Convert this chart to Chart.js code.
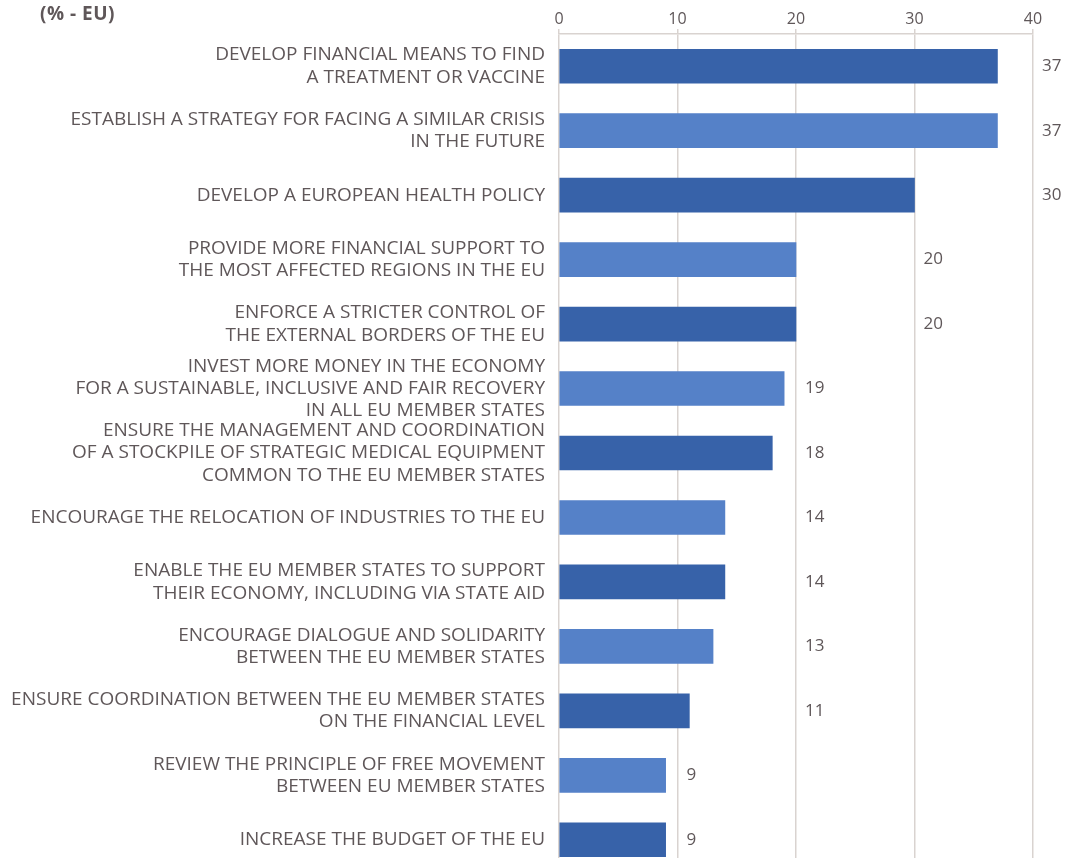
<!DOCTYPE html>
<html>
<head>
<meta charset="utf-8">
<script src="https://cdn.jsdelivr.net/npm/chart.js@4"></script>
<style>
  html, body { margin: 0; padding: 0; overflow: hidden; background: #fff; }
  #wrap { position: relative; width: 1072px; height: 872px; }
  #unit { position: absolute; left: 40px; top: 0px; font: bold 19px "Open Sans", sans-serif; color: #5f5759; letter-spacing: 0.5px; }
</style>
</head>
<body>
<div id="wrap">
  <canvas id="pollChart" width="1072" height="872"></canvas>
  <div id="unit">(% - EU)</div>
</div>
<script>
const categories = [
    ['DEVELOP FINANCIAL MEANS TO FIND', 'A TREATMENT OR VACCINE'],
    ['ESTABLISH A STRATEGY FOR FACING A SIMILAR CRISIS', 'IN THE FUTURE'],
    ['DEVELOP A EUROPEAN HEALTH POLICY'],
    ['PROVIDE MORE FINANCIAL SUPPORT TO', 'THE MOST AFFECTED REGIONS IN THE EU'],
    ['ENFORCE A STRICTER CONTROL OF', 'THE EXTERNAL BORDERS OF THE EU'],
    ['INVEST MORE MONEY IN THE ECONOMY', 'FOR A SUSTAINABLE, INCLUSIVE AND FAIR RECOVERY', 'IN ALL EU MEMBER STATES'],
    ['ENSURE THE MANAGEMENT AND COORDINATION', 'OF A STOCKPILE OF STRATEGIC MEDICAL EQUIPMENT', 'COMMON TO THE EU MEMBER STATES'],
    ['ENCOURAGE THE RELOCATION OF INDUSTRIES TO THE EU'],
    ['ENABLE THE EU MEMBER STATES TO SUPPORT', 'THEIR ECONOMY, INCLUDING VIA STATE AID'],
    ['ENCOURAGE DIALOGUE AND SOLIDARITY', 'BETWEEN THE EU MEMBER STATES'],
    ['ENSURE COORDINATION BETWEEN THE EU MEMBER STATES', 'ON THE FINANCIAL LEVEL'],
    ['REVIEW THE PRINCIPLE OF FREE MOVEMENT', 'BETWEEN EU MEMBER STATES'],
    ['INCREASE THE BUDGET OF THE EU']
];
const values = [37, 37, 30, 20, 20, 19, 18, 14, 14, 13, 11, 9, 9];
const xTicks = [0, 10, 20, 30, 40];

const darkBlue = '#3762a9';
const lightBlue = '#5581c8';
const textColor = '#5f5759';
const gridColor = '#d9d3d0';

// Etiket nilai diletakkan setelah garis grid berikutnya (seperti aslinya)
const valueLabels = {
    id: 'valueLabels',
    afterDatasetsDraw(chart) {
        const { ctx, scales: { x, y } } = chart;
        ctx.save();
        ctx.font = '17px "Open Sans", sans-serif';
        ctx.fillStyle = textColor;
        ctx.textAlign = 'left';
        ctx.textBaseline = 'middle';
        values.forEach((v, i) => {
            const nextGrid = Math.floor(v / 10) * 10 + 10;
            ctx.fillText(String(v), x.getPixelForValue(nextGrid) + 9, y.getPixelForValue(i));
        });
        ctx.restore();
    }
};

const ctx = document.getElementById('pollChart').getContext('2d');
new Chart(ctx, {
    type: 'bar',
    data: {
        labels: categories,
        datasets: [{
            data: values,
            backgroundColor: values.map((_, i) => i % 2 === 0 ? darkBlue : lightBlue),
            borderWidth: 0,
            barThickness: 34
        }]
    },
    options: {
        indexAxis: 'y',
        responsive: false,
        animation: false,
        layout: { padding: { left: 0, right: 39, top: 0, bottom: 0 } },
        plugins: { legend: { display: false }, tooltip: { enabled: false } },
        scales: {
            x: {
                position: 'top',
                min: 0,
                max: 40,
                afterBuildTicks: scale => { scale.ticks = xTicks.map(v => ({ value: v })); },
                afterFit: scale => {
                    scale.height = 34;
                    scale.paddingLeft = 0;
                    scale.paddingRight = 0;
                },
                grid: { color: gridColor, lineWidth: 1.5, tickLength: 5, drawTicks: true },
                border: { display: true, color: gridColor, width: 1.5 },
                ticks: { color: textColor, font: { family: 'Open Sans', size: 16 }, padding: 0 }
            },
            y: {
                afterFit: scale => {
                    scale.width = 559;
                    scale.paddingTop = 0;
                    scale.paddingBottom = 0;
                },
                grid: { display: false, drawTicks: false },
                border: { display: false },
                ticks: {
                    autoSkip: false,
                    color: textColor,
                    padding: 14,
                    font: { family: 'Open Sans', size: 19, lineHeight: 1.18 }
                }
            }
        }
    },
    plugins: [valueLabels]
});
</script>
</body>
</html>
